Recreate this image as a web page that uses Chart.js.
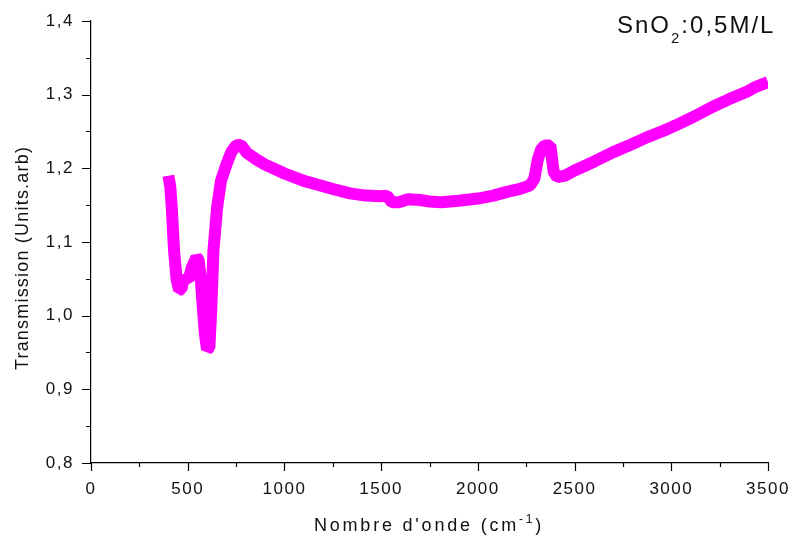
<!DOCTYPE html>
<html>
<head>
<meta charset="utf-8">
<title>SnO2 0,5M/L - Transmission</title>
<script src="https://cdn.jsdelivr.net/npm/chart.js@4.4.1/dist/chart.umd.min.js"></script>
<style>
  html, body { margin: 0; padding: 0; background: #fff; }
  canvas { display: block; }
</style>
</head>
<body>
<canvas id="spectre" width="788" height="539"></canvas>
<script>
// spectre IR : nombre d'onde (cm-1) et transmission
const nombreOnde = [
  400, 410, 418, 429, 442, 455, 468, 480, 492, 505, 522, 545, 556, 566, 577, 589, 600, 612,
  622, 633, 652, 672, 700, 725, 750, 775, 806, 850, 900, 950, 1000, 1050, 1100, 1168, 1250,
  1339, 1420, 1500, 1530, 1555, 1590, 1640, 1700, 1750, 1810, 1900, 2000, 2080, 2150, 2218,
  2270, 2292, 2310, 2328, 2345, 2375, 2392, 2410, 2450, 2500, 2600, 2700, 2790, 2873, 2960,
  3045, 3130, 3217, 3300, 3390, 3440, 3500
];
const transmission = [
  1.190, 1.175, 1.145, 1.090, 1.050, 1.035, 1.036, 1.052, 1.050, 1.049, 1.066, 1.079, 1.076, 1.055, 1.015, 0.975, 0.954, 0.957,
  1.010, 1.088, 1.147, 1.183, 1.205, 1.222, 1.231, 1.232, 1.221, 1.213, 1.205, 1.199, 1.193, 1.188, 1.183, 1.178, 1.172,
  1.166, 1.163, 1.162, 1.163, 1.154, 1.154, 1.158, 1.157, 1.155, 1.154, 1.156, 1.159, 1.163, 1.168, 1.172,
  1.177, 1.186, 1.212, 1.226, 1.231, 1.231, 1.195, 1.188, 1.190, 1.197, 1.209, 1.222, 1.232, 1.242, 1.251,
  1.261, 1.272, 1.284, 1.294, 1.304, 1.311, 1.317
];
const xTicks = [0, 500, 1000, 1500, 2000, 2500, 3000, 3500];
const yTicks = [0.8, 0.9, 1.0, 1.1, 1.2, 1.3, 1.4];

const police = '"Liberation Sans", Arial, sans-serif';
const points = nombreOnde.map((x, i) => ({ x: x, y: transmission[i] }));

// graduations majeures/mineures, titres d'axes et légende SnO2
const decor = {
  id: 'decor',
  beforeDraw(chart) {
    chart.ctx.letterSpacing = '1.5px';
  },
  afterDraw(chart) {
    const ctx = chart.ctx;
    const sx = chart.scales.x, sy = chart.scales.y;
    const bas = chart.chartArea.bottom, gauche = chart.chartArea.left;
    ctx.save();
    ctx.strokeStyle = '#000';
    ctx.lineWidth = 1.2;
    ctx.beginPath();
    for (let v = 0; v <= 3500; v += 250) {
      const px = Math.round(sx.getPixelForValue(v)) + 0.5;
      const len = v % 500 === 0 ? 8 : 4;
      ctx.moveTo(px, bas);
      ctx.lineTo(px, bas + len);
    }
    for (let k = 0; k <= 12; k++) {
      const v = 0.8 + k * 0.05;
      const py = Math.round(sy.getPixelForValue(v)) + 0.5;
      const len = k % 2 === 0 ? 9 : 5;
      ctx.moveTo(gauche, py);
      ctx.lineTo(gauche - len, py);
    }
    ctx.stroke();

    ctx.fillStyle = '#111';
    ctx.letterSpacing = '2.8px';
    ctx.font = '18px ' + police;
    ctx.textBaseline = 'alphabetic';
    // titre axe x avec exposant
    const t1 = "Nombre d'onde (cm";
    const w1 = ctx.measureText(t1).width;
    ctx.font = '12px ' + police;
    const wExp = ctx.measureText('-1').width;
    ctx.font = '18px ' + police;
    const w2 = ctx.measureText(')').width;
    let x0 = 429 - (w1 + wExp + w2) / 2;
    ctx.textAlign = 'left';
    ctx.fillText(t1, x0, 531);
    ctx.font = '12px ' + police;
    ctx.fillText('-1', x0 + w1, 523);
    ctx.font = '18px ' + police;
    ctx.fillText(')', x0 + w1 + wExp, 531);

    // titre axe y
    ctx.save();
    ctx.letterSpacing = '1.2px';
    ctx.translate(28, 258);
    ctx.rotate(-Math.PI / 2);
    ctx.textAlign = 'center';
    ctx.fillText('Transmission (Units.arb)', 0, 0);
    ctx.restore();

    // légende échantillon
    ctx.letterSpacing = '2px';
    ctx.textAlign = 'left';
    ctx.font = '24px ' + police;
    let x = 617;
    ctx.fillText('SnO', x, 33);
    x += ctx.measureText('SnO').width;
    ctx.font = '15px ' + police;
    ctx.fillText('2', x, 43);
    x += ctx.measureText('2').width;
    ctx.font = '24px ' + police;
    ctx.fillText(':0,5M/L', x, 33);
    ctx.restore();
  }
};

new Chart(document.getElementById('spectre').getContext('2d'), {
  type: 'line',
  data: {
    datasets: [{
      data: points,
      borderColor: '#ff00ff',
      borderWidth: 12,
      borderJoinStyle: 'bevel',
      borderCapStyle: 'butt',
      pointRadius: 0,
      tension: 0,
      fill: false
    }]
  },
  options: {
    responsive: false,
    animation: false,
    layout: { padding: { top: 21, right: 20, left: 0, bottom: 0 } },
    plugins: {
      legend: { display: false },
      tooltip: { enabled: false }
    },
    scales: {
      x: {
        type: 'linear',
        min: 0,
        max: 3500,
        afterFit: s => { s.height = 76; s.paddingLeft = 0; s.paddingRight = 0; },
        afterBuildTicks: s => { s.ticks = xTicks.map(v => ({ value: v })); },
        ticks: {
          color: '#111',
          font: { family: police, size: 17 },
          padding: 16,
          maxRotation: 0,
          callback: v => String(v)
        },
        grid: { display: false, drawTicks: false },
        border: { display: true, color: '#000', width: 1.2 }
      },
      y: {
        min: 0.8,
        max: 1.4,
        afterFit: s => { s.width = 91; s.paddingTop = 0; s.paddingBottom = 0; },
        afterBuildTicks: s => { s.ticks = yTicks.map(v => ({ value: v })); },
        ticks: {
          color: '#111',
          font: { family: police, size: 17 },
          padding: 17,
          callback: v => v.toFixed(1).replace('.', ',')
        },
        grid: { display: false, drawTicks: false },
        border: { display: true, color: '#000', width: 1.2 }
      }
    }
  },
  plugins: [decor]
});
</script>
</body>
</html>
